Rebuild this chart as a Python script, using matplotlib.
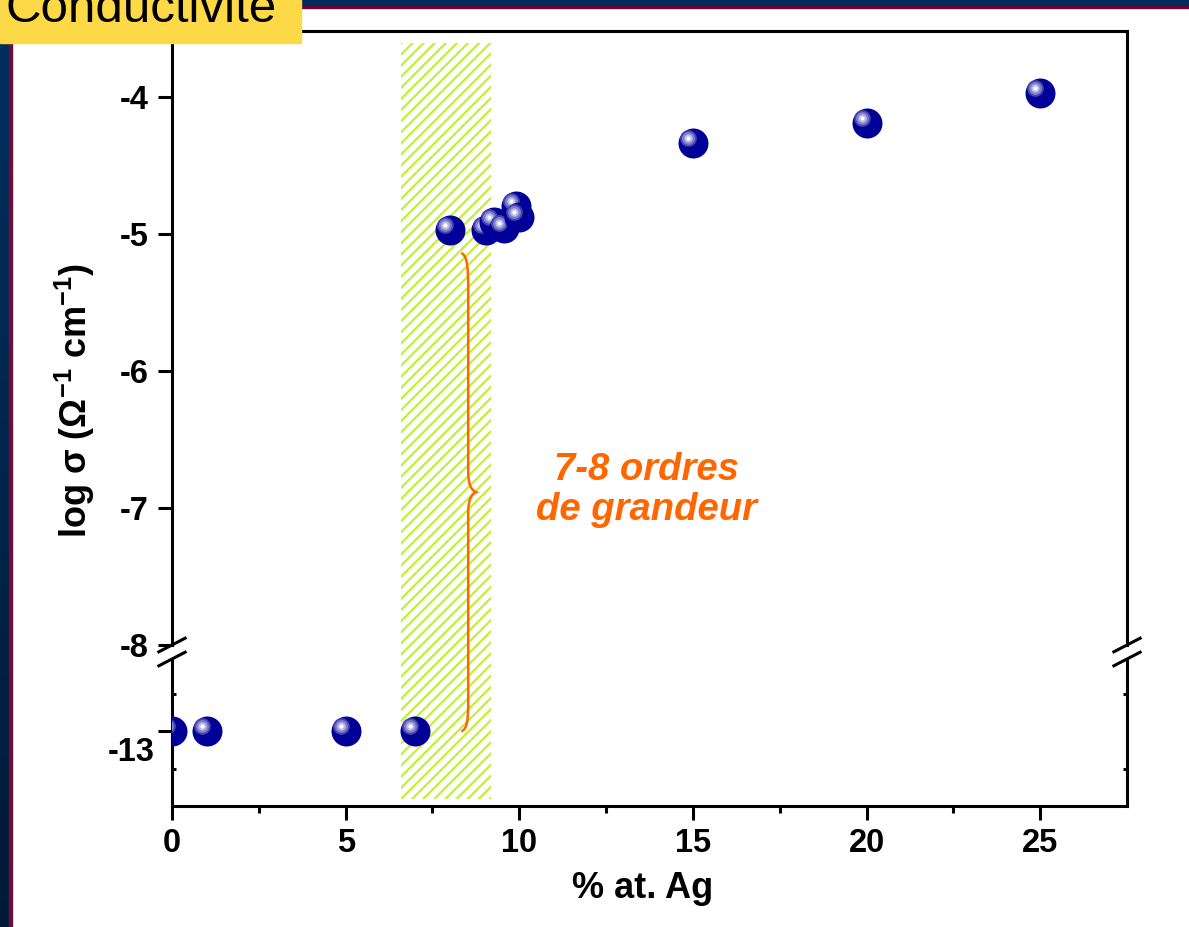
import matplotlib
matplotlib.use('Agg')
import numpy as np
import matplotlib.pyplot as plt
import matplotlib.transforms as mtransforms
from matplotlib.patches import Rectangle, PathPatch
from matplotlib.path import Path
from matplotlib.lines import Line2D
from matplotlib.colors import LinearSegmentedColormap

plt.rcParams['font.family'] = ['Liberation Sans', 'DejaVu Sans']
plt.rcParams['mathtext.default'] = 'regular'
plt.rcParams['axes.unicode_minus'] = False
plt.rcParams['hatch.linewidth'] = 1.6

# données
x_low = [0, 1, 5, 7]
y_low = [-13, -13, -13, -13]
x_high = [8, 9.03, 9.26, 9.55, 9.92, 10.0, 15, 20, 25]
y_high = [-4.97, -4.97, -4.91, -4.96, -4.80, -4.88, -4.34, -4.19, -3.97]

x_ticks = [0, 5, 10, 15, 20, 25]
y_ticks_top = [-8, -7, -6, -5, -4]
band_x = (6.6, 9.2)

W, H = 1189, 927
fig = plt.figure(figsize=(W / 100, H / 100), dpi=100)
fig.patch.set_facecolor('white')

def fx(px):
    return px / W

def fy(py):
    return 1 - py / H

ax_top = fig.add_axes([fx(172), fy(645), (1127 - 172) / W, (645 - 31) / H])
ax_bot = fig.add_axes([fx(172), fy(806), (1127 - 172) / W, (806 - 659) / H])
for ax in (ax_top, ax_bot):
    ax.set_facecolor('none')
    ax.set_xlim(0, 27.5)
    for s in ax.spines.values():
        s.set_linewidth(2.2)

ax_top.set_ylim(-8, -3.52)
ax_bot.set_ylim(-14, -12.03)
ax_top.spines['bottom'].set_visible(False)
ax_bot.spines['top'].set_visible(False)

# axe du haut
ax_top.set_yticks(y_ticks_top)
ax_top.set_yticklabels([str(v) for v in y_ticks_top], fontsize=23.5, fontweight='bold')
ax_top.tick_params(axis='y', direction='out', length=10, width=2.2, pad=7)
ax_top.tick_params(axis='x', bottom=False, labelbottom=False)

# axe du bas
ax_bot.set_xticks(x_ticks)
ax_bot.set_xticklabels([str(v) for v in x_ticks], fontsize=23.5, fontweight='bold')
ax_bot.set_xticks(np.arange(2.5, 27.5, 5), minor=True)
ax_bot.tick_params(axis='x', which='major', direction='out', length=10, width=2.2, pad=6)
ax_bot.tick_params(axis='x', which='minor', direction='out', length=5, width=2.2)
ax_bot.set_yticks([-13])
ax_bot.set_yticklabels([''])
ax_bot.set_yticks([-13.5, -12.5], minor=True)
ax_bot.tick_params(axis='y', which='major', direction='out', length=10, width=2.2)
ax_bot.tick_params(axis='y', which='minor', direction='in', length=3, width=2.2, right=True)
ax_bot.annotate('-13', xy=(0, -13), xycoords=('axes fraction', 'data'),
                xytext=(-17, -21), textcoords='offset pixels',
                ha='right', va='center', fontsize=23.5, fontweight='bold')

# sphères
def sphere(ax, x, y, z):
    ax.plot(x, y, 'o', ms=21.6, color='#000099', mec='none', zorder=z)
    tr = mtransforms.offset_copy(ax.transData, fig=fig, x=-5, y=5, units='dots')
    for k, (ms, c) in enumerate([(12, '#4646ac'), (9.2, '#8080cc'),
                                 (6, '#bcbcea'), (3, 'white')]):
        ax.plot(x, y, 'o', ms=ms, color=c, mec='none', transform=tr,
                zorder=z + 0.05 * (k + 1))

for i, (x, y) in enumerate(zip(x_low, y_low)):
    sphere(ax_bot, x, y, 3 + i * 0.5)
for i, (x, y) in enumerate(zip(x_high, y_high)):
    sphere(ax_top, x, y, 3 + i * 0.5)

# zone hachurée
to_fig = fig.transFigure.inverted()
bx0 = ax_top.transData.transform((band_x[0], -4))[0]
bx1 = ax_top.transData.transform((band_x[1], -4))[0]
by1 = ax_top.transData.transform((0, -3.61))[1]
by0 = ax_bot.transData.transform((0, -13.9))[1]
(fx0, fy0) = to_fig.transform((bx0, by0))
(fx1, fy1) = to_fig.transform((bx1, by1))
fig.add_artist(Rectangle((fx0, fy0), fx1 - fx0, fy1 - fy0, transform=fig.transFigure,
                         facecolor='white', edgecolor='#c4ee38', hatch='///',
                         lw=0, zorder=-1))

# accolade
X, yt = ax_top.transData.transform((8.53, -5.14))
yb = ax_bot.transData.transform((8.53, -13))[1]
ym = (yt + yb) / 2
w, tip = 7, 8
verts = [(X - w, yt), (X - 1, yt - 2), (X, yt - 15), (X, yt - 35),
         (X, ym + 20),
         (X, ym + 8), (X + 3, ym + 2), (X + tip, ym),
         (X + 3, ym - 2), (X, ym - 8), (X, ym - 20),
         (X, yb + 30),
         (X, yb + 12), (X - 1, yb + 2), (X - w, yb)]
codes = [Path.MOVETO, Path.CURVE4, Path.CURVE4, Path.CURVE4, Path.LINETO,
         Path.CURVE4, Path.CURVE4, Path.CURVE4,
         Path.CURVE4, Path.CURVE4, Path.CURVE4, Path.LINETO,
         Path.CURVE4, Path.CURVE4, Path.CURVE4]
verts = to_fig.transform(verts)
fig.add_artist(PathPatch(Path(verts, codes), transform=fig.transFigure,
                         facecolor='none', edgecolor='#ff6600', lw=1.8, zorder=5))

ax_top.text(13.65, -6.87, '7-8 ordres\nde grandeur', ha='center', va='center',
            color='#ff6600', fontsize=27.5, fontweight='bold', style='italic',
            linespacing=1.15)

# marques de coupure
for xa in (0, 1):
    for ax, ya in ((ax_top, 0), (ax_bot, 1)):
        cx, cy = ax.transAxes.transform((xa, ya))
        p = to_fig.transform([(cx - 14.5, cy - 7.5), (cx + 14.5, cy + 7.5)])
        fig.add_artist(Line2D(p[:, 0], p[:, 1], transform=fig.transFigure,
                              color='black', lw=2.2, solid_capstyle='butt', zorder=6))

# titres des axes
fig.text(fx(75), fy(401), 'log σ (Ω$^{-1}$ cm$^{-1}$)', rotation=90,
         fontsize=26, fontweight='bold', ha='center', va='center')
fig.text(fx(643), fy(888), '% at. Ag', fontsize=26, fontweight='bold',
         ha='center', va='center')

# décor de la diapositive
band_ax = fig.add_axes([0, 0, fx(9), 1], zorder=10)
grad = np.linspace(0, 1, 256).reshape(-1, 1)
cmap = LinearSegmentedColormap.from_list('b', ['#00305f', '#001a36'])
band_ax.imshow(grad, aspect='auto', cmap=cmap, extent=[0, 1, 0, 1], origin='upper')
band_ax.axis('off')
fig.add_artist(Rectangle((fx(9), 0), 3 / W, 1, transform=fig.transFigure,
                         color='#6a0f3c', zorder=11))
fig.add_artist(Rectangle((0, fy(6)), 1, 6 / H, transform=fig.transFigure,
                         color='#002b5c', zorder=11))
fig.add_artist(Rectangle((0, fy(8)), 1, 2 / H, transform=fig.transFigure,
                         color='#6a0033', zorder=11))
fig.add_artist(Rectangle((0, fy(43)), 301 / W, 43 / H, transform=fig.transFigure,
                         color='#fdd947', zorder=20))
fig.text(fx(5), fy(22), 'Conductivité', fontsize=35.5, va='baseline', ha='left',
         color='black', zorder=21)

fig.savefig('out.png', dpi=100)
